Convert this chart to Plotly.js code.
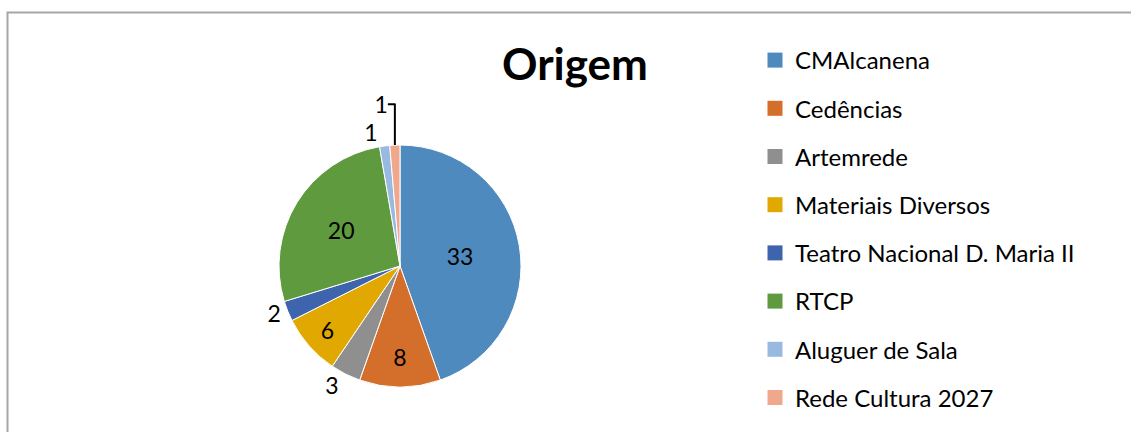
<!DOCTYPE html>
<html>
<head>
<meta charset="utf-8">
<script src="https://cdn.plot.ly/plotly-3.0.1.min.js"></script>
<style>
  html, body { margin: 0; padding: 0; background: #fff; }
  #chart { width: 1131px; height: 432px; }
</style>
</head>
<body>
<div id="chart"></div>
<script>
// Origem - pie chart data
const categories = ['CMAlcanena', 'Cedências', 'Artemrede', 'Materiais Diversos',
    'Teatro Nacional D. Maria II', 'RTCP', 'Aluguer de Sala', 'Rede Cultura 2027'];
const counts = [33, 8, 3, 6, 2, 20, 1, 1];
const sliceColors = ['#4f8abf', '#d46f2b', '#8f8f8f', '#e0a800', '#3e64ad', '#5f9a3e', '#98b9e0', '#f0a88c'];
const labelPlacement = ['inside', 'inside', 'outside', 'inside', 'outside', 'inside', 'outside', 'outside'];

const W = 1131, H = 432;
const FONT = 'Lato, "Open Sans", sans-serif';

const pie = {
    type: 'pie',
    labels: categories,
    values: counts,
    sort: false,
    direction: 'clockwise',
    rotation: 0,
    textinfo: 'value',
    textposition: labelPlacement,
    insidetextorientation: 'horizontal',
    textfont: { family: FONT, size: 23, color: '#000' },
    marker: { colors: sliceColors, line: { color: '#ffffff', width: 1 } },
    showlegend: false,
    hoverinfo: 'none',
    domain: {
        x: [(400 - 121) / W, (400 + 121) / W],
        y: [(166 - 121) / H, (166 + 121) / H]
    }
};

// legend entries, one group each so the items can be spaced like the original
const legendTraces = categories.map((name, i) => ({
    type: 'scatter',
    mode: 'markers',
    x: [null],
    y: [null],
    name: name,
    legendgroup: 'g' + i,
    marker: { symbol: 'square', size: 15, color: sliceColors[i] },
    hoverinfo: 'none'
}));

const layout = {
    width: W,
    height: H,
    margin: { t: 0, r: 0, b: 0, l: 0 },
    paper_bgcolor: '#fff',
    plot_bgcolor: '#fff',
    font: { family: FONT, color: '#000' },
    title: {
        text: '<b>Origem</b>',
        font: { family: FONT, size: 44, color: '#000' },
        x: 575 / W,
        xanchor: 'center',
        xref: 'paper',
        y: 1 - 65 / H,
        yanchor: 'middle',
        yref: 'paper'
    },
    xaxis: { visible: false },
    yaxis: { visible: false },
    showlegend: true,
    legend: {
        x: 755 / W,
        xanchor: 'left',
        y: 1 - 38 / H,
        yanchor: 'top',
        font: { family: FONT, size: 24, color: '#000' },
        tracegroupgap: 14,
        bgcolor: 'rgba(0,0,0,0)'
    },
    shapes: [{
        type: 'rect',
        xref: 'paper', yref: 'paper',
        x0: 7.5 / W, x1: 1.05,
        y0: -0.05, y1: 1 - 12.5 / H,
        line: { color: '#a6a6a6', width: 2 },
        fillcolor: 'rgba(0,0,0,0)',
        layer: 'below'
    }]
};

Plotly.newPlot('chart', [pie].concat(legendTraces), layout, { displayModeBar: false, staticPlot: true });
</script>
</body>
</html>
